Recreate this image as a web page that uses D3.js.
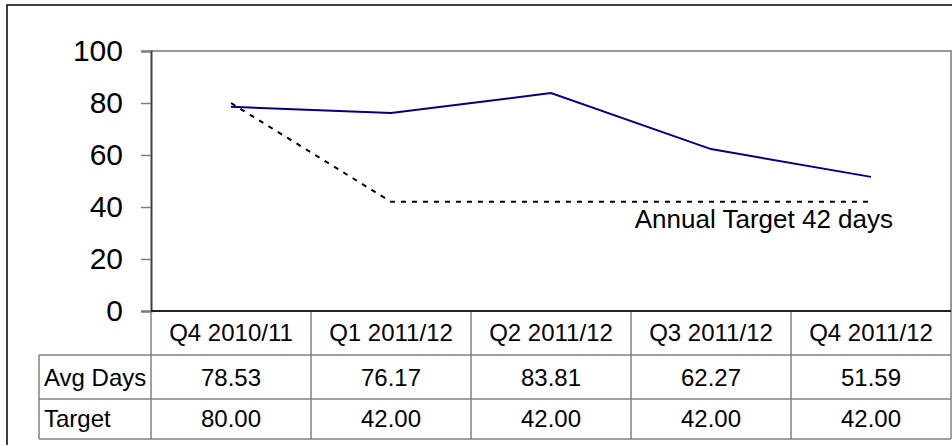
<!DOCTYPE html>
<html>
<head>
<meta charset="utf-8">
<script src="https://cdn.jsdelivr.net/npm/d3@7"></script>
<style>
  html, body { margin: 0; padding: 0; background: #fff; }
  svg { display: block; font-family: "Liberation Sans", Arial, sans-serif; }
</style>
</head>
<body>
<svg id="chart" width="952" height="445"></svg>
<script>
// Quarterly average days vs target
const quarters = ["Q4 2010/11", "Q1 2011/12", "Q2 2011/12", "Q3 2011/12", "Q4 2011/12"];
const avgDays = [78.53, 76.17, 83.81, 62.27, 51.59];
const targetDays = [80.00, 42.00, 42.00, 42.00, 42.00];
const yTicks = [0, 20, 40, 60, 80, 100];
const rowLabels = ["Avg Days", "Target"];
const annotation = "Annual Target 42 days";

const svg = d3.select("#chart");

const plot = { left: 151, right: 951, top: 51, bottom: 311 };
const tableTop = plot.bottom;
const rowH = [44, 44, 40];
const labelColLeft = 39;

const x = d3.scalePoint().domain(quarters).range([plot.left, plot.right]).padding(0.5);
const y = d3.scaleLinear().domain([0, 100]).range([plot.bottom, plot.top]);
const colW = x.step();

// outer frame
svg.append("rect")
  .attr("x", 7).attr("y", 5).attr("width", 960).attr("height", 460)
  .attr("fill", "none").attr("stroke", "#000").attr("stroke-width", 1.5);

// plot area frame (top & right)
svg.append("path")
  .attr("d", `M${plot.left},${plot.top}H${plot.right}V${plot.bottom}`)
  .attr("fill", "none").attr("stroke", "#999").attr("stroke-width", 2);

// y axis
const yAxis = svg.append("g")
  .attr("transform", `translate(${plot.left},0)`)
  .call(d3.axisLeft(y).tickValues(yTicks).tickSize(10).tickPadding(18).tickFormat(d3.format("d")));
yAxis.select(".domain").attr("stroke", "#404040").attr("stroke-width", 2);
yAxis.selectAll(".tick line").attr("stroke", "#808080").attr("stroke-width", 1.5);
yAxis.selectAll(".tick text")
  .attr("fill", "#000").attr("font-size", 30)
  .attr("font-family", "Liberation Sans, Arial, sans-serif");

// table grid
const tableBottom = tableTop + d3.sum(rowH);
const grid = svg.append("g").attr("stroke", "#808080").attr("stroke-width", 1.5).attr("fill", "none");
const rowY = [tableTop, tableTop + rowH[0], tableTop + rowH[0] + rowH[1], tableBottom];
// vertical column separators
const colEdges = d3.range(quarters.length + 1).map(i => plot.left + i * colW);
colEdges.forEach(cx => {
  grid.append("line").attr("x1", cx).attr("x2", cx).attr("y1", tableTop).attr("y2", tableBottom);
});
grid.append("line").attr("x1", labelColLeft).attr("x2", labelColLeft).attr("y1", rowY[1]).attr("y2", tableBottom);
[rowY[1], rowY[2], rowY[3]].forEach(ry => {
  grid.append("line").attr("x1", labelColLeft).attr("x2", plot.right).attr("y1", ry).attr("y2", ry);
});

// x axis baseline
svg.append("line")
  .attr("x1", plot.left).attr("x2", plot.right)
  .attr("y1", plot.bottom).attr("y2", plot.bottom)
  .attr("stroke", "#222").attr("stroke-width", 2);

// table text
const tableFont = 24;
svg.append("g").selectAll("text").data(quarters).join("text")
  .attr("x", d => x(d)).attr("y", tableTop + 30)
  .attr("text-anchor", "middle").attr("font-size", tableFont)
  .text(d => d);

const rows = [avgDays, targetDays];
rows.forEach((vals, r) => {
  const baseY = rowY[r + 1] + 31 - (r === 1 ? 3 : 0);
  svg.append("text")
    .attr("x", labelColLeft + 5).attr("y", baseY)
    .attr("font-size", tableFont).text(rowLabels[r]);
  svg.append("g").selectAll("text").data(vals).join("text")
    .attr("x", (d, i) => x(quarters[i])).attr("y", baseY)
    .attr("text-anchor", "middle").attr("font-size", tableFont)
    .text(d => d3.format(".2f")(d));
});

// series lines
const line = d3.line().x((d, i) => x(quarters[i])).y(d => y(d));

svg.append("path")
  .datum(targetDays)
  .attr("d", line)
  .attr("fill", "none").attr("stroke", "#000").attr("stroke-width", 2)
  .attr("stroke-dasharray", "5,6");

svg.append("path")
  .datum(avgDays)
  .attr("d", line)
  .attr("fill", "none").attr("stroke", "#000080").attr("stroke-width", 2);

// target annotation
svg.append("text")
  .attr("x", x(quarters[4]) + 22).attr("y", y(targetDays[4]) + 26)
  .attr("text-anchor", "end").attr("font-size", 26)
  .text(annotation);
</script>
</body>
</html>
